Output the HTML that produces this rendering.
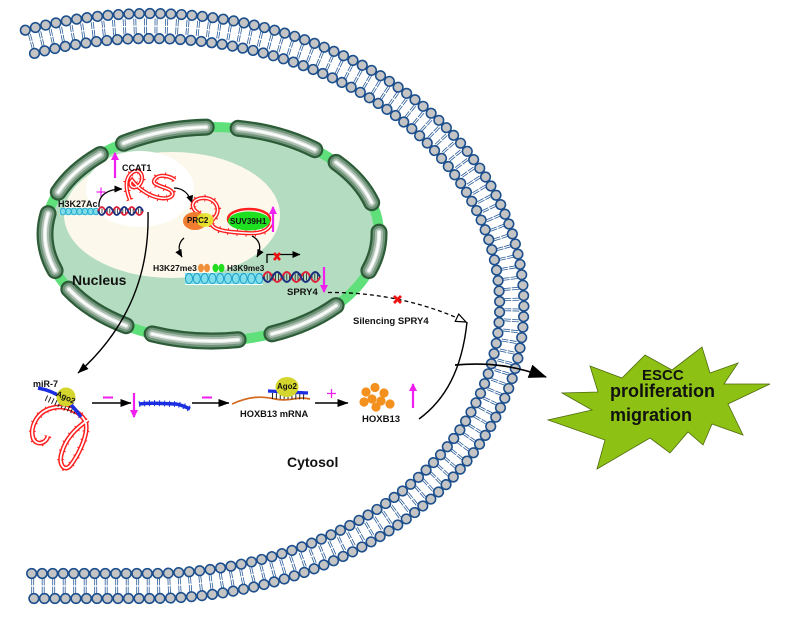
<!DOCTYPE html>
<html><head><meta charset="utf-8">
<style>
html,body{margin:0;padding:0;background:#fff;}
svg{display:block;}
text{font-family:"Liberation Sans",Arial,sans-serif;font-weight:bold;fill:#111;}
</style></head>
<body>
<svg width="790" height="618" viewBox="0 0 790 618" xmlns="http://www.w3.org/2000/svg">
<defs>
  <marker id="ah" viewBox="0 0 8 7" refX="7.5" refY="3.5" markerWidth="8" markerHeight="7" orient="auto" markerUnits="userSpaceOnUse">
    <path d="M0,0 L8,3.5 L0,7 z" fill="#000"/>
  </marker>
  <marker id="ah2" viewBox="0 0 11 8" refX="10.5" refY="4" markerWidth="11" markerHeight="8" orient="auto" markerUnits="userSpaceOnUse">
    <path d="M0,0 L11,4 L0,8 z" fill="#000"/>
  </marker>
  <marker id="big" viewBox="0 0 18 14" refX="17" refY="7" markerWidth="18" markerHeight="14" orient="auto" markerUnits="userSpaceOnUse">
    <path d="M0,0 L18,7 L0,14 z" fill="#000"/>
  </marker>
  <marker id="open" viewBox="0 0 12 10" refX="11" refY="5" markerWidth="12" markerHeight="10" orient="auto" markerUnits="userSpaceOnUse">
    <path d="M1,1 L11,5 L1,9 z" fill="#fff" stroke="#000" stroke-width="1.2"/>
  </marker>
  <marker id="mh" viewBox="0 0 8 8" refX="7" refY="4" markerWidth="8" markerHeight="8" orient="auto" markerUnits="userSpaceOnUse">
    <path d="M0,0 L8,4 L0,8 z" fill="#f01ef0"/>
  </marker>
  <g id="pores">
    <path d="M379.0,232.1 A167,107 0 0 1 368.9,270.6"/>
    <path d="M336.1,305.6 A167,107 0 0 1 271.9,333.9"/>
    <path d="M238.1,339.7 A167,107 0 0 1 152.1,333.9"/>
    <path d="M126.0,325.7 A167,107 0 0 1 68.8,289.1"/>
    <path d="M55.1,270.6 A167,107 0 0 1 48.1,213.6"/>
    <path d="M58.3,192.2 A167,107 0 0 1 100.3,154.5"/>
    <path d="M123.5,143.3 A167,107 0 0 1 206.2,127.1"/>
    <path d="M238.1,128.3 A167,107 0 0 1 314.8,149.7"/>
    <path d="M336.1,162.4 A167,107 0 0 1 371.7,202.7"/>
  </g>
</defs>

<rect width="790" height="618" fill="#fff"/>

<!-- ===== Cell membrane ===== -->
<g fill="none">
  <path d="M30,41.8 A362,280 0 1,1 150,586 L28,586" stroke="#2a5c9a" stroke-width="15" stroke-dasharray="0.8 1.2 0.8 7.7"/>
  <path d="M30,41.8 A362,280 0 1,1 150,586 L28,586" stroke="#fff" stroke-width="1.2"/>
  <path d="M25.3,30.2 A374,292.5 0 1,1 150,598.5 L28,598.5" stroke="#1c4f8e" stroke-width="11.2" stroke-linecap="round" stroke-dasharray="0.01 10.5"/>
  <path d="M25.3,30.2 A374,292.5 0 1,1 150,598.5 L28,598.5" stroke="#c4c4c4" stroke-width="8" stroke-linecap="round" stroke-dasharray="0.01 10.5"/>
  <path d="M34.5,53.4 A350,267.5 0 1,1 150,573.5 L28,573.5" stroke="#1c4f8e" stroke-width="11.2" stroke-linecap="round" stroke-dasharray="0.01 10.5"/>
  <path d="M34.5,53.4 A350,267.5 0 1,1 150,573.5 L28,573.5" stroke="#c4c4c4" stroke-width="8" stroke-linecap="round" stroke-dasharray="0.01 10.5"/>
</g>

<!-- ===== Nucleus ===== -->
<ellipse cx="212" cy="234" rx="167" ry="107" fill="#b4dcc0" stroke="#5fe07a" stroke-width="10"/>
<ellipse cx="172" cy="215" rx="108" ry="63" fill="#fcf8ec"/>
<ellipse cx="140" cy="189" rx="54" ry="38" fill="#ffffff"/>

<!-- pores -->
<g fill="none" stroke-linecap="round">
  <use href="#pores" stroke="#2d5c38" stroke-width="17"/>
  <use href="#pores" stroke="#6f9479" stroke-width="12.5"/>
  <use href="#pores" stroke="#a9bcae" stroke-width="8"/>
  <use href="#pores" stroke="#e6ede8" stroke-width="4"/>
  <use href="#pores" stroke="#ffffff" stroke-width="1.6"/>
</g>

<!-- H3K27Ac strip + DNA -->
<rect x="60" y="208" width="38" height="7" fill="#7fdde9"/>
<g fill="none" stroke="#1fa6c9" stroke-width="0.8">
  <ellipse cx="63" cy="211.5" rx="2.6" ry="3.4"/><ellipse cx="68.5" cy="211.5" rx="2.6" ry="3.4"/>
  <ellipse cx="74" cy="211.5" rx="2.6" ry="3.4"/><ellipse cx="79.5" cy="211.5" rx="2.6" ry="3.4"/>
  <ellipse cx="85" cy="211.5" rx="2.6" ry="3.4"/><ellipse cx="90.5" cy="211.5" rx="2.6" ry="3.4"/>
  <ellipse cx="96" cy="211.5" rx="2.6" ry="3.4"/>
</g>
<line x1="99" y1="211" x2="142" y2="211" stroke="#222" stroke-width="5" stroke-dasharray="0.8 1.8"/>
<path d="M98,211 q3.75,-8 7.5,0 t7.5,0 t7.5,0 t7.5,0 t7.5,0 t7.5,0" fill="none" stroke="#e0203a" stroke-width="1.8"/>
<path d="M98,211 q3.75,8 7.5,0 t7.5,0 t7.5,0 t7.5,0 t7.5,0 t7.5,0" fill="none" stroke="#1a2f80" stroke-width="1.8"/>
<text x="58" y="207" font-size="9">H3K27Ac</text>

<!-- CCAT1 -->
<path d="M130,200 C126,190 124,178 133,172 C141,167 146,180 138,186 C132,190 128,184 132,180 C138,188 148,196 160,198 C172,200 177,193 168,189 C158,185 150,184 156,178 C160,174 170,176 175,180" fill="none" stroke="#ff1f1f" stroke-width="7" stroke-dasharray="1 8"/>
<path d="M130,200 C126,190 124,178 133,172 C141,167 146,180 138,186 C132,190 128,184 132,180 C138,188 148,196 160,198 C172,200 177,193 168,189 C158,185 150,184 156,178 C160,174 170,176 175,180" fill="none" stroke="#ff1f1f" stroke-width="4.2"/>
<path d="M130,200 C126,190 124,178 133,172 C141,167 146,180 138,186 C132,190 128,184 132,180 C138,188 148,196 160,198 C172,200 177,193 168,189 C158,185 150,184 156,178 C160,174 170,176 175,180" fill="none" stroke="#fff" stroke-width="1.4"/>
<text x="122" y="171" font-size="9">CCAT1</text>
<line x1="115" y1="178" x2="115" y2="153" stroke="#f01ef0" stroke-width="2.2" marker-end="url(#mh)"/>
<path d="M96.5,192 h9 M101,187.5 v9" stroke="#f01ef0" stroke-width="1.2"/>

<!-- arrows in nucleus -->
<g fill="none" stroke="#000" stroke-width="1.3">
  <path d="M99,207 C98,195 108,189 122,189" marker-end="url(#ah)"/>
  <path d="M174,188 C183,188 189,194 192,203" marker-end="url(#ah)"/>
  <path d="M184,238 C178,243 178,250 182,257" marker-end="url(#ah)"/>
  <path d="M252,236 C260,240 262,248 257,257" marker-end="url(#ah)"/>
  <path d="M267,263 L267,254.5 L300,254.5" marker-end="url(#ah)"/>
</g>
<path d="M274,253 l6,7 M280,253 l-6,7" stroke="#ee1111" stroke-width="2.6"/>

<!-- PRC2 RNA -->
<ellipse cx="249" cy="219" rx="21" ry="10" fill="none" stroke="#ff1f1f" stroke-width="2.5"/>
<path d="M200,214 C188,208 192,198 204,198 C216,198 222,210 214,218 C208,224 212,230 232,232 C252,234 266,235 271,224" fill="none" stroke="#ff1f1f" stroke-width="7" stroke-dasharray="1 8"/>
<path d="M200,214 C188,208 192,198 204,198 C216,198 222,210 214,218 C208,224 212,230 232,232 C252,234 266,235 271,224" fill="none" stroke="#ff1f1f" stroke-width="4.2"/>
<path d="M200,214 C188,208 192,198 204,198 C216,198 222,210 214,218 C208,224 212,230 232,232 C252,234 266,235 271,224" fill="none" stroke="#fff" stroke-width="1.4"/>
<ellipse cx="195" cy="221" rx="12" ry="9" fill="#f07c30"/>
<ellipse cx="205" cy="220" rx="8.5" ry="7" fill="#e4e42a" opacity="0.9"/>
<text x="187" y="223" font-size="8">PRC2</text>
<ellipse cx="249" cy="221" rx="21" ry="9.5" fill="#1fe020"/>
<text x="230" y="224" font-size="8.2">SUV39H1</text>
<line x1="273" y1="232" x2="273" y2="207" stroke="#f01ef0" stroke-width="2.2" marker-end="url(#mh)"/>

<!-- H3K27me3 / H3K9me3 -->
<text x="153" y="271" font-size="8.6">H3K27me3</text>
<ellipse cx="201" cy="268" rx="3" ry="4.3" fill="#f0903a"/>
<ellipse cx="207" cy="268" rx="3" ry="4.3" fill="#f0903a"/>
<ellipse cx="215.5" cy="268" rx="3" ry="4.3" fill="#22dd22"/>
<ellipse cx="221.5" cy="268" rx="3" ry="4.3" fill="#22dd22"/>
<text x="227" y="271" font-size="8.2">H3K9me3</text>
<rect x="185" y="273" width="78" height="11" fill="#80dfea"/>
<g fill="none" stroke="#1a9cc6" stroke-width="0.9">
  <ellipse cx="189" cy="278.5" rx="3.5" ry="5"/><ellipse cx="196.8" cy="278.5" rx="3.5" ry="5"/>
  <ellipse cx="204.6" cy="278.5" rx="3.5" ry="5"/><ellipse cx="212.4" cy="278.5" rx="3.5" ry="5"/>
  <ellipse cx="220.2" cy="278.5" rx="3.5" ry="5"/><ellipse cx="228" cy="278.5" rx="3.5" ry="5"/>
  <ellipse cx="235.8" cy="278.5" rx="3.5" ry="5"/><ellipse cx="243.6" cy="278.5" rx="3.5" ry="5"/>
  <ellipse cx="251.4" cy="278.5" rx="3.5" ry="5"/><ellipse cx="259.2" cy="278.5" rx="3.5" ry="5"/>
</g>
<line x1="185" y1="284.5" x2="263" y2="284.5" stroke="#fff" stroke-width="1"/>
<line x1="264" y1="277" x2="320" y2="277" stroke="#222" stroke-width="7" stroke-dasharray="0.8 2"/>
<path d="M263,277 q4.75,-10 9.5,0 t9.5,0 t9.5,0 t9.5,0 t9.5,0 t9.5,0" fill="none" stroke="#e0203a" stroke-width="2"/>
<path d="M263,277 q4.75,10 9.5,0 t9.5,0 t9.5,0 t9.5,0 t9.5,0 t9.5,0" fill="none" stroke="#1a2f80" stroke-width="2"/>
<line x1="324" y1="267" x2="324" y2="292" stroke="#f01ef0" stroke-width="2.2" marker-end="url(#mh)"/>
<text x="287" y="295" font-size="9.5">SPRY4</text>
<text x="72" y="285" font-size="14">Nucleus</text>

<!-- long arrow out of nucleus -->
<path d="M148,212 C150,290 115,340 78,373" fill="none" stroke="#000" stroke-width="1.4" marker-end="url(#ah2)"/>

<!-- dashed silencing -->
<path d="M328,292.5 C370,292 420,300 466,322" fill="none" stroke="#000" stroke-width="1.3" stroke-dasharray="4 3" marker-end="url(#open)"/>
<path d="M394,296 l7,7 M401,296 l-7,7" stroke="#ee1111" stroke-width="2.8"/>
<text x="353" y="324" font-size="9.5">Silencing SPRY4</text>

<!-- cytosol row -->
<text x="33" y="387" font-size="9">miR-7</text>
<path d="M48,436 C46,444 36,446 33,438 C30,428 36,412 52,408 C68,404 84,414 86,424 C88,436 78,456 70,466 C64,472 58,464 62,452 C66,438 76,428 88,420" fill="none" stroke="#ff1f1f" stroke-width="7" stroke-dasharray="1 8"/>
<path d="M48,436 C46,444 36,446 33,438 C30,428 36,412 52,408 C68,404 84,414 86,424 C88,436 78,456 70,466 C64,472 58,464 62,452 C66,438 76,428 88,420" fill="none" stroke="#ff1f1f" stroke-width="4.8"/>
<path d="M48,436 C46,444 36,446 33,438 C30,428 36,412 52,408 C68,404 84,414 86,424 C88,436 78,456 70,466 C64,472 58,464 62,452 C66,438 76,428 88,420" fill="none" stroke="#fff" stroke-width="1.8"/>
<path d="M46,398 L76,412" stroke="#111" stroke-width="6" stroke-dasharray="0.9 2.6"/>
<path d="M38,388 Q65,393 81,417" fill="none" stroke="#1b2fe0" stroke-width="3.5"/>
<circle cx="66" cy="397" r="9.5" fill="#d4d62e"/>
<text x="66" y="400" font-size="8" text-anchor="middle" transform="rotate(25 66 397)">Ago2</text>

<line x1="103" y1="397.5" x2="113" y2="397.5" stroke="#f01ef0" stroke-width="2"/>
<line x1="92" y1="403" x2="131" y2="403" stroke="#000" stroke-width="1.6" marker-end="url(#ah2)"/>
<line x1="134" y1="393" x2="134" y2="417" stroke="#f01ef0" stroke-width="2.2" marker-end="url(#mh)"/>
<path d="M139,404 C152,402 166,404 176,404 C182,405 186,407 190,409" fill="none" stroke="#1b2fe0" stroke-width="6" stroke-dasharray="1 4"/>
<path d="M139,404 C152,402 166,404 176,404 C182,405 186,407 190,409" fill="none" stroke="#1b2fe0" stroke-width="3.5"/>
<line x1="202" y1="397.5" x2="212" y2="397.5" stroke="#f01ef0" stroke-width="2"/>
<line x1="192" y1="403" x2="229" y2="403" stroke="#000" stroke-width="1.6" marker-end="url(#ah2)"/>

<path d="M232,404 C250,396 262,396 275,399 C288,402 298,396 310,399" fill="none" stroke="#d2691e" stroke-width="1.7"/>
<path d="M272,396 L306,396.5" stroke="#111" stroke-width="6" stroke-dasharray="0.9 3"/>
<path d="M268,391 L308,393" stroke="#1b2fe0" stroke-width="3.2"/>
<ellipse cx="287" cy="387" rx="11.5" ry="10" fill="#d4d62e"/>
<text x="277" y="389" font-size="8">Ago2</text>
<text x="240" y="417" font-size="9.3">HOXB13 mRNA</text>

<path d="M327,393.5 h9 M331.5,389 v9" stroke="#f01ef0" stroke-width="1.3"/>
<line x1="315" y1="403" x2="348" y2="403" stroke="#000" stroke-width="1.6" marker-end="url(#ah2)"/>
<g fill="#f4901e">
  <circle cx="366" cy="392" r="4.6"/><circle cx="375" cy="387.5" r="4.6"/><circle cx="384" cy="393" r="4.6"/>
  <circle cx="372" cy="399" r="4.6"/><circle cx="381" cy="401" r="4.6"/><circle cx="390" cy="404" r="4.6"/>
  <circle cx="364" cy="402" r="4.6"/><circle cx="376" cy="407" r="4.6"/>
</g>
<text x="362" y="422" font-size="9.5">HOXB13</text>
<line x1="413" y1="408" x2="413" y2="384" stroke="#f01ef0" stroke-width="2.2" marker-end="url(#mh)"/>

<text x="287" y="467" font-size="14">Cytosol</text>

<!-- convergence to ESCC -->
<path d="M419,419 C445,400 462,370 467,322" fill="none" stroke="#000" stroke-width="1.4"/>
<path d="M455,365 C490,362 515,366 546,377" fill="none" stroke="#000" stroke-width="1.7" marker-end="url(#big)"/>

<!-- star -->
<polygon points="590,366 622,378 645,355 672,370 702,347 710,373 738,363 724,384 770,384 728,404 743,435 712,424 703,445 688,432 670,453 650,438 597,469 605,440 548,420 592,410 562,393 598,392" fill="#8dc214" stroke="#4f6a10" stroke-width="0.8"/>
<text x="642" y="380" font-size="15">ESCC</text>
<text x="610" y="397" font-size="18">proliferation</text>
<text x="610" y="421" font-size="18">migration</text>
</svg>
</body></html>
